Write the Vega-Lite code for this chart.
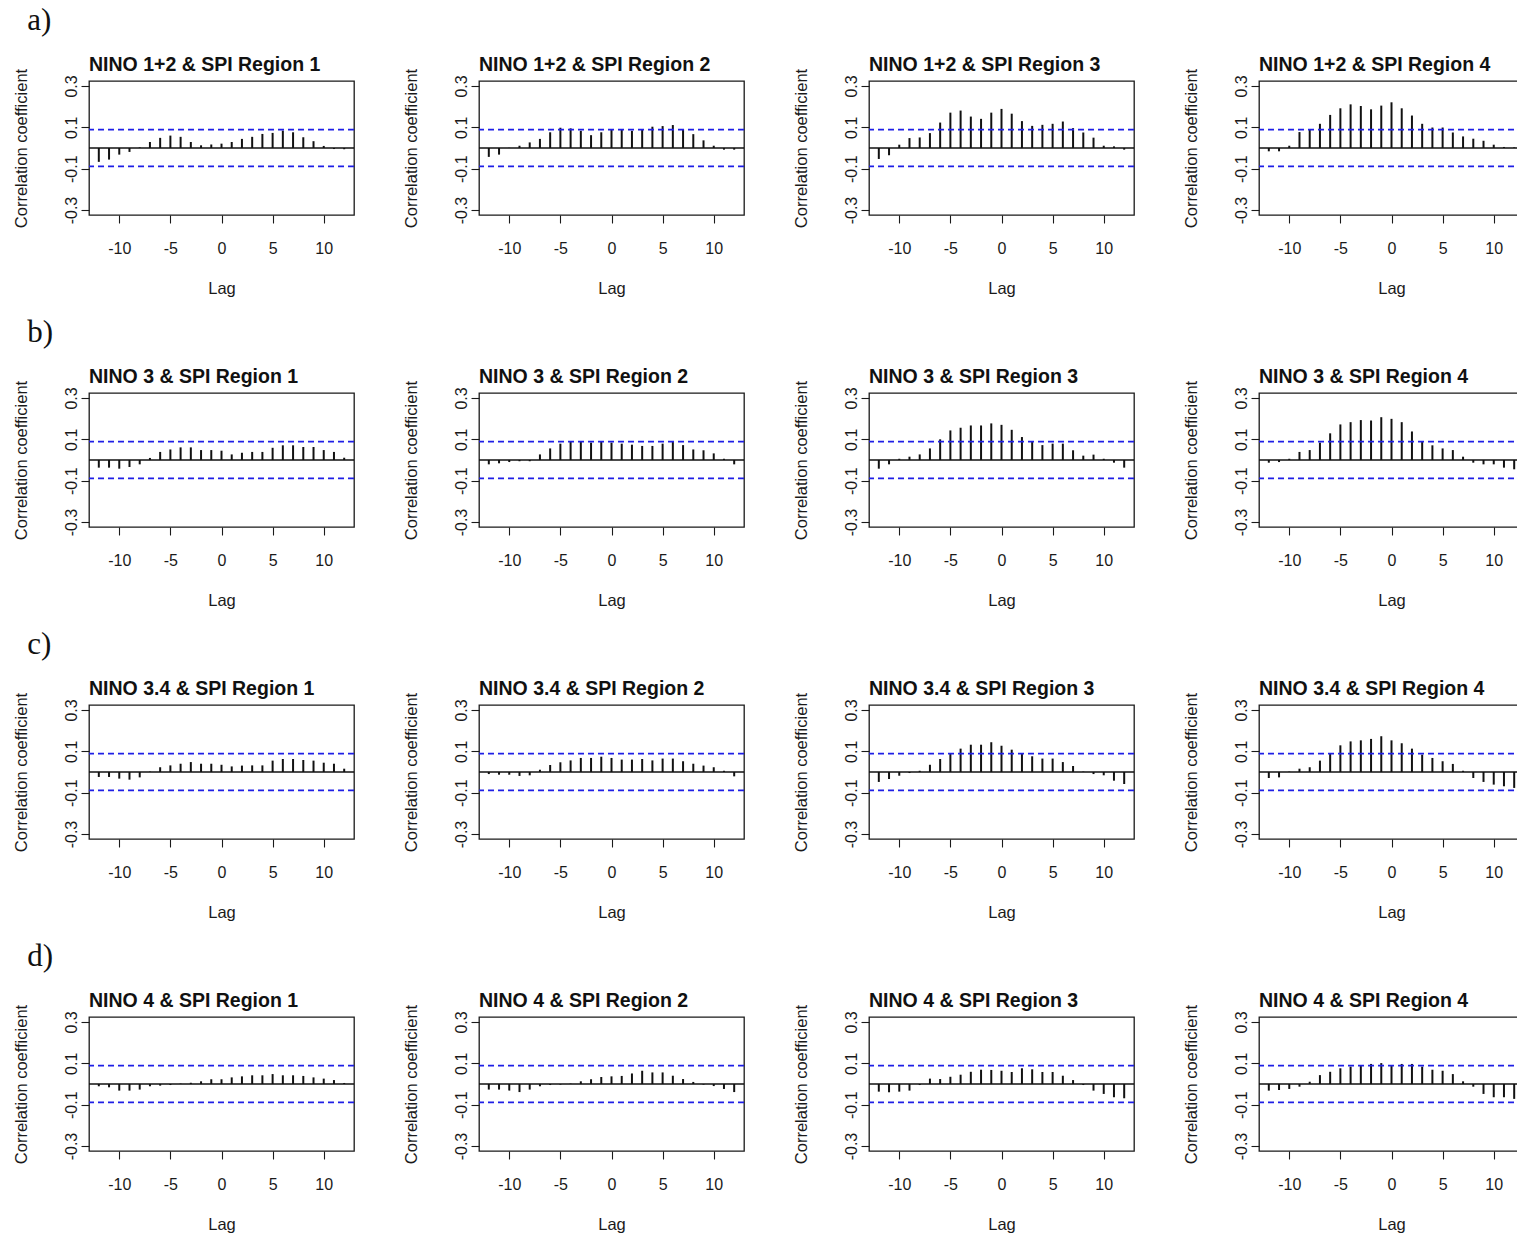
{
"$schema": "https://vega.github.io/schema/vega-lite/v6.json",
"background": "white",
"padding": {"left": 12, "top": 4, "right": 0, "bottom": 0},
"datasets": {"acf": [
{"nino":"1+2","region":1,"lag":-12,"r":-0.067},{"nino":"1+2","region":1,"lag":-11,"r":-0.056},{"nino":"1+2","region":1,"lag":-10,"r":-0.032},{"nino":"1+2","region":1,"lag":-9,"r":-0.019},{"nino":"1+2","region":1,"lag":-8,"r":0.003},{"nino":"1+2","region":1,"lag":-7,"r":0.029},{"nino":"1+2","region":1,"lag":-6,"r":0.049},{"nino":"1+2","region":1,"lag":-5,"r":0.060},{"nino":"1+2","region":1,"lag":-4,"r":0.054},{"nino":"1+2","region":1,"lag":-3,"r":0.029},{"nino":"1+2","region":1,"lag":-2,"r":0.013},{"nino":"1+2","region":1,"lag":-1,"r":0.017},{"nino":"1+2","region":1,"lag":0,"r":0.021},{"nino":"1+2","region":1,"lag":1,"r":0.029},{"nino":"1+2","region":1,"lag":2,"r":0.044},{"nino":"1+2","region":1,"lag":3,"r":0.054},{"nino":"1+2","region":1,"lag":4,"r":0.068},{"nino":"1+2","region":1,"lag":5,"r":0.073},{"nino":"1+2","region":1,"lag":6,"r":0.084},{"nino":"1+2","region":1,"lag":7,"r":0.076},{"nino":"1+2","region":1,"lag":8,"r":0.052},{"nino":"1+2","region":1,"lag":9,"r":0.033},{"nino":"1+2","region":1,"lag":10,"r":0.010},{"nino":"1+2","region":1,"lag":11,"r":-0.005},{"nino":"1+2","region":1,"lag":12,"r":-0.006},
{"nino":"1+2","region":2,"lag":-12,"r":-0.043},{"nino":"1+2","region":2,"lag":-11,"r":-0.032},{"nino":"1+2","region":2,"lag":-10,"r":0.001},{"nino":"1+2","region":2,"lag":-9,"r":0.011},{"nino":"1+2","region":2,"lag":-8,"r":0.027},{"nino":"1+2","region":2,"lag":-7,"r":0.044},{"nino":"1+2","region":2,"lag":-6,"r":0.076},{"nino":"1+2","region":2,"lag":-5,"r":0.098},{"nino":"1+2","region":2,"lag":-4,"r":0.095},{"nino":"1+2","region":2,"lag":-3,"r":0.083},{"nino":"1+2","region":2,"lag":-2,"r":0.062},{"nino":"1+2","region":2,"lag":-1,"r":0.076},{"nino":"1+2","region":2,"lag":0,"r":0.087},{"nino":"1+2","region":2,"lag":1,"r":0.087},{"nino":"1+2","region":2,"lag":2,"r":0.083},{"nino":"1+2","region":2,"lag":3,"r":0.092},{"nino":"1+2","region":2,"lag":4,"r":0.103},{"nino":"1+2","region":2,"lag":5,"r":0.106},{"nino":"1+2","region":2,"lag":6,"r":0.111},{"nino":"1+2","region":2,"lag":7,"r":0.090},{"nino":"1+2","region":2,"lag":8,"r":0.067},{"nino":"1+2","region":2,"lag":9,"r":0.037},{"nino":"1+2","region":2,"lag":10,"r":0.011},{"nino":"1+2","region":2,"lag":11,"r":-0.008},{"nino":"1+2","region":2,"lag":12,"r":-0.008},
{"nino":"1+2","region":3,"lag":-12,"r":-0.053},{"nino":"1+2","region":3,"lag":-11,"r":-0.035},{"nino":"1+2","region":3,"lag":-10,"r":0.016},{"nino":"1+2","region":3,"lag":-9,"r":0.048},{"nino":"1+2","region":3,"lag":-8,"r":0.051},{"nino":"1+2","region":3,"lag":-7,"r":0.072},{"nino":"1+2","region":3,"lag":-6,"r":0.123},{"nino":"1+2","region":3,"lag":-5,"r":0.171},{"nino":"1+2","region":3,"lag":-4,"r":0.181},{"nino":"1+2","region":3,"lag":-3,"r":0.152},{"nino":"1+2","region":3,"lag":-2,"r":0.141},{"nino":"1+2","region":3,"lag":-1,"r":0.171},{"nino":"1+2","region":3,"lag":0,"r":0.189},{"nino":"1+2","region":3,"lag":1,"r":0.166},{"nino":"1+2","region":3,"lag":2,"r":0.130},{"nino":"1+2","region":3,"lag":3,"r":0.107},{"nino":"1+2","region":3,"lag":4,"r":0.112},{"nino":"1+2","region":3,"lag":5,"r":0.117},{"nino":"1+2","region":3,"lag":6,"r":0.128},{"nino":"1+2","region":3,"lag":7,"r":0.096},{"nino":"1+2","region":3,"lag":8,"r":0.075},{"nino":"1+2","region":3,"lag":9,"r":0.050},{"nino":"1+2","region":3,"lag":10,"r":0.011},{"nino":"1+2","region":3,"lag":11,"r":0.008},{"nino":"1+2","region":3,"lag":12,"r":-0.008},
{"nino":"1+2","region":4,"lag":-12,"r":-0.016},{"nino":"1+2","region":4,"lag":-11,"r":-0.016},{"nino":"1+2","region":4,"lag":-10,"r":0.011},{"nino":"1+2","region":4,"lag":-9,"r":0.077},{"nino":"1+2","region":4,"lag":-8,"r":0.091},{"nino":"1+2","region":4,"lag":-7,"r":0.117},{"nino":"1+2","region":4,"lag":-6,"r":0.160},{"nino":"1+2","region":4,"lag":-5,"r":0.192},{"nino":"1+2","region":4,"lag":-4,"r":0.211},{"nino":"1+2","region":4,"lag":-3,"r":0.203},{"nino":"1+2","region":4,"lag":-2,"r":0.187},{"nino":"1+2","region":4,"lag":-1,"r":0.205},{"nino":"1+2","region":4,"lag":0,"r":0.221},{"nino":"1+2","region":4,"lag":1,"r":0.192},{"nino":"1+2","region":4,"lag":2,"r":0.157},{"nino":"1+2","region":4,"lag":3,"r":0.117},{"nino":"1+2","region":4,"lag":4,"r":0.099},{"nino":"1+2","region":4,"lag":5,"r":0.099},{"nino":"1+2","region":4,"lag":6,"r":0.075},{"nino":"1+2","region":4,"lag":7,"r":0.056},{"nino":"1+2","region":4,"lag":8,"r":0.045},{"nino":"1+2","region":4,"lag":9,"r":0.035},{"nino":"1+2","region":4,"lag":10,"r":0.016},{"nino":"1+2","region":4,"lag":11,"r":0.005},{"nino":"1+2","region":4,"lag":12,"r":0.003},
{"nino":"3","region":1,"lag":-12,"r":-0.037},{"nino":"3","region":1,"lag":-11,"r":-0.037},{"nino":"3","region":1,"lag":-10,"r":-0.042},{"nino":"3","region":1,"lag":-9,"r":-0.034},{"nino":"3","region":1,"lag":-8,"r":-0.021},{"nino":"3","region":1,"lag":-7,"r":0.010},{"nino":"3","region":1,"lag":-6,"r":0.039},{"nino":"3","region":1,"lag":-5,"r":0.051},{"nino":"3","region":1,"lag":-4,"r":0.061},{"nino":"3","region":1,"lag":-3,"r":0.061},{"nino":"3","region":1,"lag":-2,"r":0.048},{"nino":"3","region":1,"lag":-1,"r":0.048},{"nino":"3","region":1,"lag":0,"r":0.045},{"nino":"3","region":1,"lag":1,"r":0.027},{"nino":"3","region":1,"lag":2,"r":0.035},{"nino":"3","region":1,"lag":3,"r":0.039},{"nino":"3","region":1,"lag":4,"r":0.039},{"nino":"3","region":1,"lag":5,"r":0.059},{"nino":"3","region":1,"lag":6,"r":0.071},{"nino":"3","region":1,"lag":7,"r":0.071},{"nino":"3","region":1,"lag":8,"r":0.063},{"nino":"3","region":1,"lag":9,"r":0.063},{"nino":"3","region":1,"lag":10,"r":0.048},{"nino":"3","region":1,"lag":11,"r":0.039},{"nino":"3","region":1,"lag":12,"r":0.011},
{"nino":"3","region":2,"lag":-12,"r":-0.021},{"nino":"3","region":2,"lag":-11,"r":-0.016},{"nino":"3","region":2,"lag":-10,"r":-0.010},{"nino":"3","region":2,"lag":-9,"r":-0.006},{"nino":"3","region":2,"lag":-8,"r":-0.006},{"nino":"3","region":2,"lag":-7,"r":0.027},{"nino":"3","region":2,"lag":-6,"r":0.056},{"nino":"3","region":2,"lag":-5,"r":0.079},{"nino":"3","region":2,"lag":-4,"r":0.090},{"nino":"3","region":2,"lag":-3,"r":0.088},{"nino":"3","region":2,"lag":-2,"r":0.084},{"nino":"3","region":2,"lag":-1,"r":0.088},{"nino":"3","region":2,"lag":0,"r":0.084},{"nino":"3","region":2,"lag":1,"r":0.079},{"nino":"3","region":2,"lag":2,"r":0.074},{"nino":"3","region":2,"lag":3,"r":0.068},{"nino":"3","region":2,"lag":4,"r":0.068},{"nino":"3","region":2,"lag":5,"r":0.079},{"nino":"3","region":2,"lag":6,"r":0.087},{"nino":"3","region":2,"lag":7,"r":0.072},{"nino":"3","region":2,"lag":8,"r":0.051},{"nino":"3","region":2,"lag":9,"r":0.047},{"nino":"3","region":2,"lag":10,"r":0.032},{"nino":"3","region":2,"lag":11,"r":0.006},{"nino":"3","region":2,"lag":12,"r":-0.021},
{"nino":"3","region":3,"lag":-12,"r":-0.042},{"nino":"3","region":3,"lag":-11,"r":-0.021},{"nino":"3","region":3,"lag":-10,"r":0.006},{"nino":"3","region":3,"lag":-9,"r":0.016},{"nino":"3","region":3,"lag":-8,"r":0.027},{"nino":"3","region":3,"lag":-7,"r":0.056},{"nino":"3","region":3,"lag":-6,"r":0.100},{"nino":"3","region":3,"lag":-5,"r":0.143},{"nino":"3","region":3,"lag":-4,"r":0.156},{"nino":"3","region":3,"lag":-3,"r":0.167},{"nino":"3","region":3,"lag":-2,"r":0.167},{"nino":"3","region":3,"lag":-1,"r":0.177},{"nino":"3","region":3,"lag":0,"r":0.170},{"nino":"3","region":3,"lag":1,"r":0.146},{"nino":"3","region":3,"lag":2,"r":0.111},{"nino":"3","region":3,"lag":3,"r":0.088},{"nino":"3","region":3,"lag":4,"r":0.072},{"nino":"3","region":3,"lag":5,"r":0.079},{"nino":"3","region":3,"lag":6,"r":0.079},{"nino":"3","region":3,"lag":7,"r":0.047},{"nino":"3","region":3,"lag":8,"r":0.021},{"nino":"3","region":3,"lag":9,"r":0.026},{"nino":"3","region":3,"lag":10,"r":0.006},{"nino":"3","region":3,"lag":11,"r":-0.013},{"nino":"3","region":3,"lag":12,"r":-0.037},
{"nino":"3","region":4,"lag":-12,"r":-0.013},{"nino":"3","region":4,"lag":-11,"r":-0.010},{"nino":"3","region":4,"lag":-10,"r":0.006},{"nino":"3","region":4,"lag":-9,"r":0.039},{"nino":"3","region":4,"lag":-8,"r":0.048},{"nino":"3","region":4,"lag":-7,"r":0.084},{"nino":"3","region":4,"lag":-6,"r":0.129},{"nino":"3","region":4,"lag":-5,"r":0.172},{"nino":"3","region":4,"lag":-4,"r":0.183},{"nino":"3","region":4,"lag":-3,"r":0.193},{"nino":"3","region":4,"lag":-2,"r":0.191},{"nino":"3","region":4,"lag":-1,"r":0.207},{"nino":"3","region":4,"lag":0,"r":0.199},{"nino":"3","region":4,"lag":1,"r":0.183},{"nino":"3","region":4,"lag":2,"r":0.138},{"nino":"3","region":4,"lag":3,"r":0.092},{"nino":"3","region":4,"lag":4,"r":0.071},{"nino":"3","region":4,"lag":5,"r":0.056},{"nino":"3","region":4,"lag":6,"r":0.048},{"nino":"3","region":4,"lag":7,"r":0.016},{"nino":"3","region":4,"lag":8,"r":-0.013},{"nino":"3","region":4,"lag":9,"r":-0.021},{"nino":"3","region":4,"lag":10,"r":-0.021},{"nino":"3","region":4,"lag":11,"r":-0.037},{"nino":"3","region":4,"lag":12,"r":-0.045},
{"nino":"3.4","region":1,"lag":-12,"r":-0.024},{"nino":"3.4","region":1,"lag":-11,"r":-0.024},{"nino":"3.4","region":1,"lag":-10,"r":-0.032},{"nino":"3.4","region":1,"lag":-9,"r":-0.037},{"nino":"3.4","region":1,"lag":-8,"r":-0.026},{"nino":"3.4","region":1,"lag":-7,"r":0.002},{"nino":"3.4","region":1,"lag":-6,"r":0.023},{"nino":"3.4","region":1,"lag":-5,"r":0.032},{"nino":"3.4","region":1,"lag":-4,"r":0.040},{"nino":"3.4","region":1,"lag":-3,"r":0.048},{"nino":"3.4","region":1,"lag":-2,"r":0.040},{"nino":"3.4","region":1,"lag":-1,"r":0.040},{"nino":"3.4","region":1,"lag":0,"r":0.035},{"nino":"3.4","region":1,"lag":1,"r":0.027},{"nino":"3.4","region":1,"lag":2,"r":0.031},{"nino":"3.4","region":1,"lag":3,"r":0.032},{"nino":"3.4","region":1,"lag":4,"r":0.032},{"nino":"3.4","region":1,"lag":5,"r":0.055},{"nino":"3.4","region":1,"lag":6,"r":0.063},{"nino":"3.4","region":1,"lag":7,"r":0.063},{"nino":"3.4","region":1,"lag":8,"r":0.058},{"nino":"3.4","region":1,"lag":9,"r":0.055},{"nino":"3.4","region":1,"lag":10,"r":0.045},{"nino":"3.4","region":1,"lag":11,"r":0.040},{"nino":"3.4","region":1,"lag":12,"r":0.016},
{"nino":"3.4","region":2,"lag":-12,"r":-0.010},{"nino":"3.4","region":2,"lag":-11,"r":-0.013},{"nino":"3.4","region":2,"lag":-10,"r":-0.013},{"nino":"3.4","region":2,"lag":-9,"r":-0.019},{"nino":"3.4","region":2,"lag":-8,"r":-0.016},{"nino":"3.4","region":2,"lag":-7,"r":0.011},{"nino":"3.4","region":2,"lag":-6,"r":0.034},{"nino":"3.4","region":2,"lag":-5,"r":0.047},{"nino":"3.4","region":2,"lag":-4,"r":0.056},{"nino":"3.4","region":2,"lag":-3,"r":0.068},{"nino":"3.4","region":2,"lag":-2,"r":0.068},{"nino":"3.4","region":2,"lag":-1,"r":0.074},{"nino":"3.4","region":2,"lag":0,"r":0.068},{"nino":"3.4","region":2,"lag":1,"r":0.060},{"nino":"3.4","region":2,"lag":2,"r":0.060},{"nino":"3.4","region":2,"lag":3,"r":0.063},{"nino":"3.4","region":2,"lag":4,"r":0.056},{"nino":"3.4","region":2,"lag":5,"r":0.065},{"nino":"3.4","region":2,"lag":6,"r":0.065},{"nino":"3.4","region":2,"lag":7,"r":0.052},{"nino":"3.4","region":2,"lag":8,"r":0.040},{"nino":"3.4","region":2,"lag":9,"r":0.031},{"nino":"3.4","region":2,"lag":10,"r":0.023},{"nino":"3.4","region":2,"lag":11,"r":0.006},{"nino":"3.4","region":2,"lag":12,"r":-0.021},
{"nino":"3.4","region":3,"lag":-12,"r":-0.048},{"nino":"3.4","region":3,"lag":-11,"r":-0.034},{"nino":"3.4","region":3,"lag":-10,"r":-0.018},{"nino":"3.4","region":3,"lag":-9,"r":-0.005},{"nino":"3.4","region":3,"lag":-8,"r":0.006},{"nino":"3.4","region":3,"lag":-7,"r":0.035},{"nino":"3.4","region":3,"lag":-6,"r":0.063},{"nino":"3.4","region":3,"lag":-5,"r":0.092},{"nino":"3.4","region":3,"lag":-4,"r":0.113},{"nino":"3.4","region":3,"lag":-3,"r":0.132},{"nino":"3.4","region":3,"lag":-2,"r":0.132},{"nino":"3.4","region":3,"lag":-1,"r":0.144},{"nino":"3.4","region":3,"lag":0,"r":0.127},{"nino":"3.4","region":3,"lag":1,"r":0.108},{"nino":"3.4","region":3,"lag":2,"r":0.089},{"nino":"3.4","region":3,"lag":3,"r":0.076},{"nino":"3.4","region":3,"lag":4,"r":0.065},{"nino":"3.4","region":3,"lag":5,"r":0.065},{"nino":"3.4","region":3,"lag":6,"r":0.048},{"nino":"3.4","region":3,"lag":7,"r":0.029},{"nino":"3.4","region":3,"lag":8,"r":0.002},{"nino":"3.4","region":3,"lag":9,"r":-0.010},{"nino":"3.4","region":3,"lag":10,"r":-0.016},{"nino":"3.4","region":3,"lag":11,"r":-0.042},{"nino":"3.4","region":3,"lag":12,"r":-0.058},
{"nino":"3.4","region":4,"lag":-12,"r":-0.029},{"nino":"3.4","region":4,"lag":-11,"r":-0.026},{"nino":"3.4","region":4,"lag":-10,"r":0.002},{"nino":"3.4","region":4,"lag":-9,"r":0.016},{"nino":"3.4","region":4,"lag":-8,"r":0.023},{"nino":"3.4","region":4,"lag":-7,"r":0.055},{"nino":"3.4","region":4,"lag":-6,"r":0.090},{"nino":"3.4","region":4,"lag":-5,"r":0.129},{"nino":"3.4","region":4,"lag":-4,"r":0.148},{"nino":"3.4","region":4,"lag":-3,"r":0.153},{"nino":"3.4","region":4,"lag":-2,"r":0.160},{"nino":"3.4","region":4,"lag":-1,"r":0.173},{"nino":"3.4","region":4,"lag":0,"r":0.153},{"nino":"3.4","region":4,"lag":1,"r":0.139},{"nino":"3.4","region":4,"lag":2,"r":0.113},{"nino":"3.4","region":4,"lag":3,"r":0.084},{"nino":"3.4","region":4,"lag":4,"r":0.068},{"nino":"3.4","region":4,"lag":5,"r":0.052},{"nino":"3.4","region":4,"lag":6,"r":0.039},{"nino":"3.4","region":4,"lag":7,"r":0.006},{"nino":"3.4","region":4,"lag":8,"r":-0.029},{"nino":"3.4","region":4,"lag":9,"r":-0.048},{"nino":"3.4","region":4,"lag":10,"r":-0.061},{"nino":"3.4","region":4,"lag":11,"r":-0.069},{"nino":"3.4","region":4,"lag":12,"r":-0.077},
{"nino":"4","region":1,"lag":-12,"r":-0.011},{"nino":"4","region":1,"lag":-11,"r":-0.016},{"nino":"4","region":1,"lag":-10,"r":-0.032},{"nino":"4","region":1,"lag":-9,"r":-0.032},{"nino":"4","region":1,"lag":-8,"r":-0.027},{"nino":"4","region":1,"lag":-7,"r":-0.011},{"nino":"4","region":1,"lag":-6,"r":-0.008},{"nino":"4","region":1,"lag":-5,"r":-0.005},{"nino":"4","region":1,"lag":-4,"r":0.002},{"nino":"4","region":1,"lag":-3,"r":0.006},{"nino":"4","region":1,"lag":-2,"r":0.013},{"nino":"4","region":1,"lag":-1,"r":0.023},{"nino":"4","region":1,"lag":0,"r":0.023},{"nino":"4","region":1,"lag":1,"r":0.032},{"nino":"4","region":1,"lag":2,"r":0.037},{"nino":"4","region":1,"lag":3,"r":0.042},{"nino":"4","region":1,"lag":4,"r":0.042},{"nino":"4","region":1,"lag":5,"r":0.048},{"nino":"4","region":1,"lag":6,"r":0.042},{"nino":"4","region":1,"lag":7,"r":0.042},{"nino":"4","region":1,"lag":8,"r":0.039},{"nino":"4","region":1,"lag":9,"r":0.032},{"nino":"4","region":1,"lag":10,"r":0.026},{"nino":"4","region":1,"lag":11,"r":0.019},{"nino":"4","region":1,"lag":12,"r":0.005},
{"nino":"4","region":2,"lag":-12,"r":-0.027},{"nino":"4","region":2,"lag":-11,"r":-0.027},{"nino":"4","region":2,"lag":-10,"r":-0.032},{"nino":"4","region":2,"lag":-9,"r":-0.039},{"nino":"4","region":2,"lag":-8,"r":-0.027},{"nino":"4","region":2,"lag":-7,"r":-0.011},{"nino":"4","region":2,"lag":-6,"r":-0.005},{"nino":"4","region":2,"lag":-5,"r":-0.003},{"nino":"4","region":2,"lag":-4,"r":0.002},{"nino":"4","region":2,"lag":-3,"r":0.013},{"nino":"4","region":2,"lag":-2,"r":0.023},{"nino":"4","region":2,"lag":-1,"r":0.034},{"nino":"4","region":2,"lag":0,"r":0.037},{"nino":"4","region":2,"lag":1,"r":0.039},{"nino":"4","region":2,"lag":2,"r":0.051},{"nino":"4","region":2,"lag":3,"r":0.064},{"nino":"4","region":2,"lag":4,"r":0.056},{"nino":"4","region":2,"lag":5,"r":0.056},{"nino":"4","region":2,"lag":6,"r":0.040},{"nino":"4","region":2,"lag":7,"r":0.024},{"nino":"4","region":2,"lag":8,"r":0.010},{"nino":"4","region":2,"lag":9,"r":-0.003},{"nino":"4","region":2,"lag":10,"r":-0.010},{"nino":"4","region":2,"lag":11,"r":-0.024},{"nino":"4","region":2,"lag":12,"r":-0.039},
{"nino":"4","region":3,"lag":-12,"r":-0.037},{"nino":"4","region":3,"lag":-11,"r":-0.040},{"nino":"4","region":3,"lag":-10,"r":-0.037},{"nino":"4","region":3,"lag":-9,"r":-0.032},{"nino":"4","region":3,"lag":-8,"r":-0.005},{"nino":"4","region":3,"lag":-7,"r":0.026},{"nino":"4","region":3,"lag":-6,"r":0.024},{"nino":"4","region":3,"lag":-5,"r":0.035},{"nino":"4","region":3,"lag":-4,"r":0.045},{"nino":"4","region":3,"lag":-3,"r":0.059},{"nino":"4","region":3,"lag":-2,"r":0.069},{"nino":"4","region":3,"lag":-1,"r":0.068},{"nino":"4","region":3,"lag":0,"r":0.064},{"nino":"4","region":3,"lag":1,"r":0.058},{"nino":"4","region":3,"lag":2,"r":0.076},{"nino":"4","region":3,"lag":3,"r":0.071},{"nino":"4","region":3,"lag":4,"r":0.058},{"nino":"4","region":3,"lag":5,"r":0.058},{"nino":"4","region":3,"lag":6,"r":0.040},{"nino":"4","region":3,"lag":7,"r":0.019},{"nino":"4","region":3,"lag":8,"r":-0.005},{"nino":"4","region":3,"lag":9,"r":-0.032},{"nino":"4","region":3,"lag":10,"r":-0.048},{"nino":"4","region":3,"lag":11,"r":-0.064},{"nino":"4","region":3,"lag":12,"r":-0.069},
{"nino":"4","region":4,"lag":-12,"r":-0.032},{"nino":"4","region":4,"lag":-11,"r":-0.029},{"nino":"4","region":4,"lag":-10,"r":-0.024},{"nino":"4","region":4,"lag":-9,"r":-0.013},{"nino":"4","region":4,"lag":-8,"r":0.011},{"nino":"4","region":4,"lag":-7,"r":0.043},{"nino":"4","region":4,"lag":-6,"r":0.059},{"nino":"4","region":4,"lag":-5,"r":0.076},{"nino":"4","region":4,"lag":-4,"r":0.084},{"nino":"4","region":4,"lag":-3,"r":0.092},{"nino":"4","region":4,"lag":-2,"r":0.097},{"nino":"4","region":4,"lag":-1,"r":0.101},{"nino":"4","region":4,"lag":0,"r":0.092},{"nino":"4","region":4,"lag":1,"r":0.097},{"nino":"4","region":4,"lag":2,"r":0.097},{"nino":"4","region":4,"lag":3,"r":0.084},{"nino":"4","region":4,"lag":4,"r":0.069},{"nino":"4","region":4,"lag":5,"r":0.064},{"nino":"4","region":4,"lag":6,"r":0.048},{"nino":"4","region":4,"lag":7,"r":0.013},{"nino":"4","region":4,"lag":8,"r":-0.013},{"nino":"4","region":4,"lag":9,"r":-0.048},{"nino":"4","region":4,"lag":10,"r":-0.064},{"nino":"4","region":4,"lag":11,"r":-0.064},{"nino":"4","region":4,"lag":12,"r":-0.072}
]},
"data": {"name": "acf"},
"config": {
  "view": {"stroke": "#1a1a1a", "strokeWidth": 1.3},
  "font": "Liberation Sans",
  "axis": {"domain": false, "grid": false, "tickColor": "#1a1a1a", "tickSize": 8, "tickWidth": 1.1, "labelColor": "#1a1a1a", "labelFont": "Liberation Sans", "labelFontSize": 16, "titleFont": "Liberation Sans", "titleFontSize": 16.5, "titleFontWeight": "normal", "titleColor": "#1a1a1a", "labelFlush": false, "labelOverlap": false},
  "header": {"title": null, "labelFont": "Liberation Sans", "labelFontSize": 19.5, "labelFontWeight": "bold", "labelColor": "#111", "labelAnchor": "start", "labelBaseline": "alphabetic", "labelPadding": -9},
  "title": {"font": "Liberation Serif", "fontSize": 31, "fontWeight": "normal", "color": "#111", "anchor": "start", "dx": 15, "offset": 18}
},
"spacing": 18,
"vconcat": [
  {"title": {"text": "a)"}, "transform": [{"filter": "datum.nino == '1+2'"}],
   "facet": {"column": {"field": "region", "type": "ordinal", "title": null, "header": {"labelExpr": "'NINO 1+2 & SPI Region ' + datum.value"}}},
   "spacing": 125, "bounds": "flush", "resolve": {"axis": {"x": "independent", "y": "independent"}},
   "spec": {"width": 265, "height": 134, "layer": [
     {"mark": {"type": "rule", "color": "#111", "strokeWidth": 2}, "encoding": {
       "x": {"field": "lag", "type": "quantitative", "scale": {"domain": [-12.96, 12.96], "nice": false, "zero": false}, "axis": {"title": "Lag", "values": [-10, -5, 0, 5, 10], "labelBaseline": "alphabetic", "labelPadding": 30, "labelExpr": "datum.value < 0 ? '-' + abs(datum.value) : '' + datum.value", "titleY": 78, "titleBaseline": "alphabetic"}},
       "y": {"field": "r", "type": "quantitative", "scale": {"domain": [-0.324, 0.324], "nice": false, "zero": false}, "axis": {"title": "Correlation coefficient", "values": [-0.3, -0.2, -0.1, 0, 0.1, 0.2, 0.3], "labelAngle": 270, "labelAlign": "center", "labelBaseline": "alphabetic", "labelPadding": 5, "labelExpr": "datum.value > 0.25 ? '0.3' : (datum.value > 0.05 && datum.value < 0.15) ? '0.1' : (datum.value < -0.05 && datum.value > -0.15) ? '-0.1' : datum.value < -0.25 ? '-0.3' : ''", "titleX": -63, "titleY": 67, "titleBaseline": "alphabetic", "titleAlign": "center"}},
       "y2": {"datum": 0}}},
     {"transform": [{"aggregate": [{"op": "count", "as": "n"}], "groupby": ["region"]}], "mark": {"type": "rule", "color": "#111", "strokeWidth": 1.5}, "encoding": {"y": {"datum": 0}}},
     {"transform": [{"aggregate": [{"op": "count", "as": "n"}], "groupby": ["region"]}], "mark": {"type": "rule", "color": "#1f1fe6", "strokeWidth": 1.6, "strokeDash": [6, 4]}, "encoding": {"y": {"datum": 0.089}}},
     {"transform": [{"aggregate": [{"op": "count", "as": "n"}], "groupby": ["region"]}], "mark": {"type": "rule", "color": "#1f1fe6", "strokeWidth": 1.6, "strokeDash": [6, 4]}, "encoding": {"y": {"datum": -0.089}}}
   ]}},
  {"title": {"text": "b)"}, "transform": [{"filter": "datum.nino == '3'"}],
   "facet": {"column": {"field": "region", "type": "ordinal", "title": null, "header": {"labelExpr": "'NINO 3 & SPI Region ' + datum.value"}}},
   "spacing": 125, "bounds": "flush", "resolve": {"axis": {"x": "independent", "y": "independent"}},
   "spec": {"width": 265, "height": 134, "layer": [
     {"mark": {"type": "rule", "color": "#111", "strokeWidth": 2}, "encoding": {
       "x": {"field": "lag", "type": "quantitative", "scale": {"domain": [-12.96, 12.96], "nice": false, "zero": false}, "axis": {"title": "Lag", "values": [-10, -5, 0, 5, 10], "labelBaseline": "alphabetic", "labelPadding": 30, "labelExpr": "datum.value < 0 ? '-' + abs(datum.value) : '' + datum.value", "titleY": 78, "titleBaseline": "alphabetic"}},
       "y": {"field": "r", "type": "quantitative", "scale": {"domain": [-0.324, 0.324], "nice": false, "zero": false}, "axis": {"title": "Correlation coefficient", "values": [-0.3, -0.2, -0.1, 0, 0.1, 0.2, 0.3], "labelAngle": 270, "labelAlign": "center", "labelBaseline": "alphabetic", "labelPadding": 5, "labelExpr": "datum.value > 0.25 ? '0.3' : (datum.value > 0.05 && datum.value < 0.15) ? '0.1' : (datum.value < -0.05 && datum.value > -0.15) ? '-0.1' : datum.value < -0.25 ? '-0.3' : ''", "titleX": -63, "titleY": 67, "titleBaseline": "alphabetic", "titleAlign": "center"}},
       "y2": {"datum": 0}}},
     {"transform": [{"aggregate": [{"op": "count", "as": "n"}], "groupby": ["region"]}], "mark": {"type": "rule", "color": "#111", "strokeWidth": 1.5}, "encoding": {"y": {"datum": 0}}},
     {"transform": [{"aggregate": [{"op": "count", "as": "n"}], "groupby": ["region"]}], "mark": {"type": "rule", "color": "#1f1fe6", "strokeWidth": 1.6, "strokeDash": [6, 4]}, "encoding": {"y": {"datum": 0.089}}},
     {"transform": [{"aggregate": [{"op": "count", "as": "n"}], "groupby": ["region"]}], "mark": {"type": "rule", "color": "#1f1fe6", "strokeWidth": 1.6, "strokeDash": [6, 4]}, "encoding": {"y": {"datum": -0.089}}}
   ]}},
  {"title": {"text": "c)"}, "transform": [{"filter": "datum.nino == '3.4'"}],
   "facet": {"column": {"field": "region", "type": "ordinal", "title": null, "header": {"labelExpr": "'NINO 3.4 & SPI Region ' + datum.value"}}},
   "spacing": 125, "bounds": "flush", "resolve": {"axis": {"x": "independent", "y": "independent"}},
   "spec": {"width": 265, "height": 134, "layer": [
     {"mark": {"type": "rule", "color": "#111", "strokeWidth": 2}, "encoding": {
       "x": {"field": "lag", "type": "quantitative", "scale": {"domain": [-12.96, 12.96], "nice": false, "zero": false}, "axis": {"title": "Lag", "values": [-10, -5, 0, 5, 10], "labelBaseline": "alphabetic", "labelPadding": 30, "labelExpr": "datum.value < 0 ? '-' + abs(datum.value) : '' + datum.value", "titleY": 78, "titleBaseline": "alphabetic"}},
       "y": {"field": "r", "type": "quantitative", "scale": {"domain": [-0.324, 0.324], "nice": false, "zero": false}, "axis": {"title": "Correlation coefficient", "values": [-0.3, -0.2, -0.1, 0, 0.1, 0.2, 0.3], "labelAngle": 270, "labelAlign": "center", "labelBaseline": "alphabetic", "labelPadding": 5, "labelExpr": "datum.value > 0.25 ? '0.3' : (datum.value > 0.05 && datum.value < 0.15) ? '0.1' : (datum.value < -0.05 && datum.value > -0.15) ? '-0.1' : datum.value < -0.25 ? '-0.3' : ''", "titleX": -63, "titleY": 67, "titleBaseline": "alphabetic", "titleAlign": "center"}},
       "y2": {"datum": 0}}},
     {"transform": [{"aggregate": [{"op": "count", "as": "n"}], "groupby": ["region"]}], "mark": {"type": "rule", "color": "#111", "strokeWidth": 1.5}, "encoding": {"y": {"datum": 0}}},
     {"transform": [{"aggregate": [{"op": "count", "as": "n"}], "groupby": ["region"]}], "mark": {"type": "rule", "color": "#1f1fe6", "strokeWidth": 1.6, "strokeDash": [6, 4]}, "encoding": {"y": {"datum": 0.089}}},
     {"transform": [{"aggregate": [{"op": "count", "as": "n"}], "groupby": ["region"]}], "mark": {"type": "rule", "color": "#1f1fe6", "strokeWidth": 1.6, "strokeDash": [6, 4]}, "encoding": {"y": {"datum": -0.089}}}
   ]}},
  {"title": {"text": "d)"}, "transform": [{"filter": "datum.nino == '4'"}],
   "facet": {"column": {"field": "region", "type": "ordinal", "title": null, "header": {"labelExpr": "'NINO 4 & SPI Region ' + datum.value"}}},
   "spacing": 125, "bounds": "flush", "resolve": {"axis": {"x": "independent", "y": "independent"}},
   "spec": {"width": 265, "height": 134, "layer": [
     {"mark": {"type": "rule", "color": "#111", "strokeWidth": 2}, "encoding": {
       "x": {"field": "lag", "type": "quantitative", "scale": {"domain": [-12.96, 12.96], "nice": false, "zero": false}, "axis": {"title": "Lag", "values": [-10, -5, 0, 5, 10], "labelBaseline": "alphabetic", "labelPadding": 30, "labelExpr": "datum.value < 0 ? '-' + abs(datum.value) : '' + datum.value", "titleY": 78, "titleBaseline": "alphabetic"}},
       "y": {"field": "r", "type": "quantitative", "scale": {"domain": [-0.324, 0.324], "nice": false, "zero": false}, "axis": {"title": "Correlation coefficient", "values": [-0.3, -0.2, -0.1, 0, 0.1, 0.2, 0.3], "labelAngle": 270, "labelAlign": "center", "labelBaseline": "alphabetic", "labelPadding": 5, "labelExpr": "datum.value > 0.25 ? '0.3' : (datum.value > 0.05 && datum.value < 0.15) ? '0.1' : (datum.value < -0.05 && datum.value > -0.15) ? '-0.1' : datum.value < -0.25 ? '-0.3' : ''", "titleX": -63, "titleY": 67, "titleBaseline": "alphabetic", "titleAlign": "center"}},
       "y2": {"datum": 0}}},
     {"transform": [{"aggregate": [{"op": "count", "as": "n"}], "groupby": ["region"]}], "mark": {"type": "rule", "color": "#111", "strokeWidth": 1.5}, "encoding": {"y": {"datum": 0}}},
     {"transform": [{"aggregate": [{"op": "count", "as": "n"}], "groupby": ["region"]}], "mark": {"type": "rule", "color": "#1f1fe6", "strokeWidth": 1.6, "strokeDash": [6, 4]}, "encoding": {"y": {"datum": 0.089}}},
     {"transform": [{"aggregate": [{"op": "count", "as": "n"}], "groupby": ["region"]}], "mark": {"type": "rule", "color": "#1f1fe6", "strokeWidth": 1.6, "strokeDash": [6, 4]}, "encoding": {"y": {"datum": -0.089}}}
   ]}}
]
}
